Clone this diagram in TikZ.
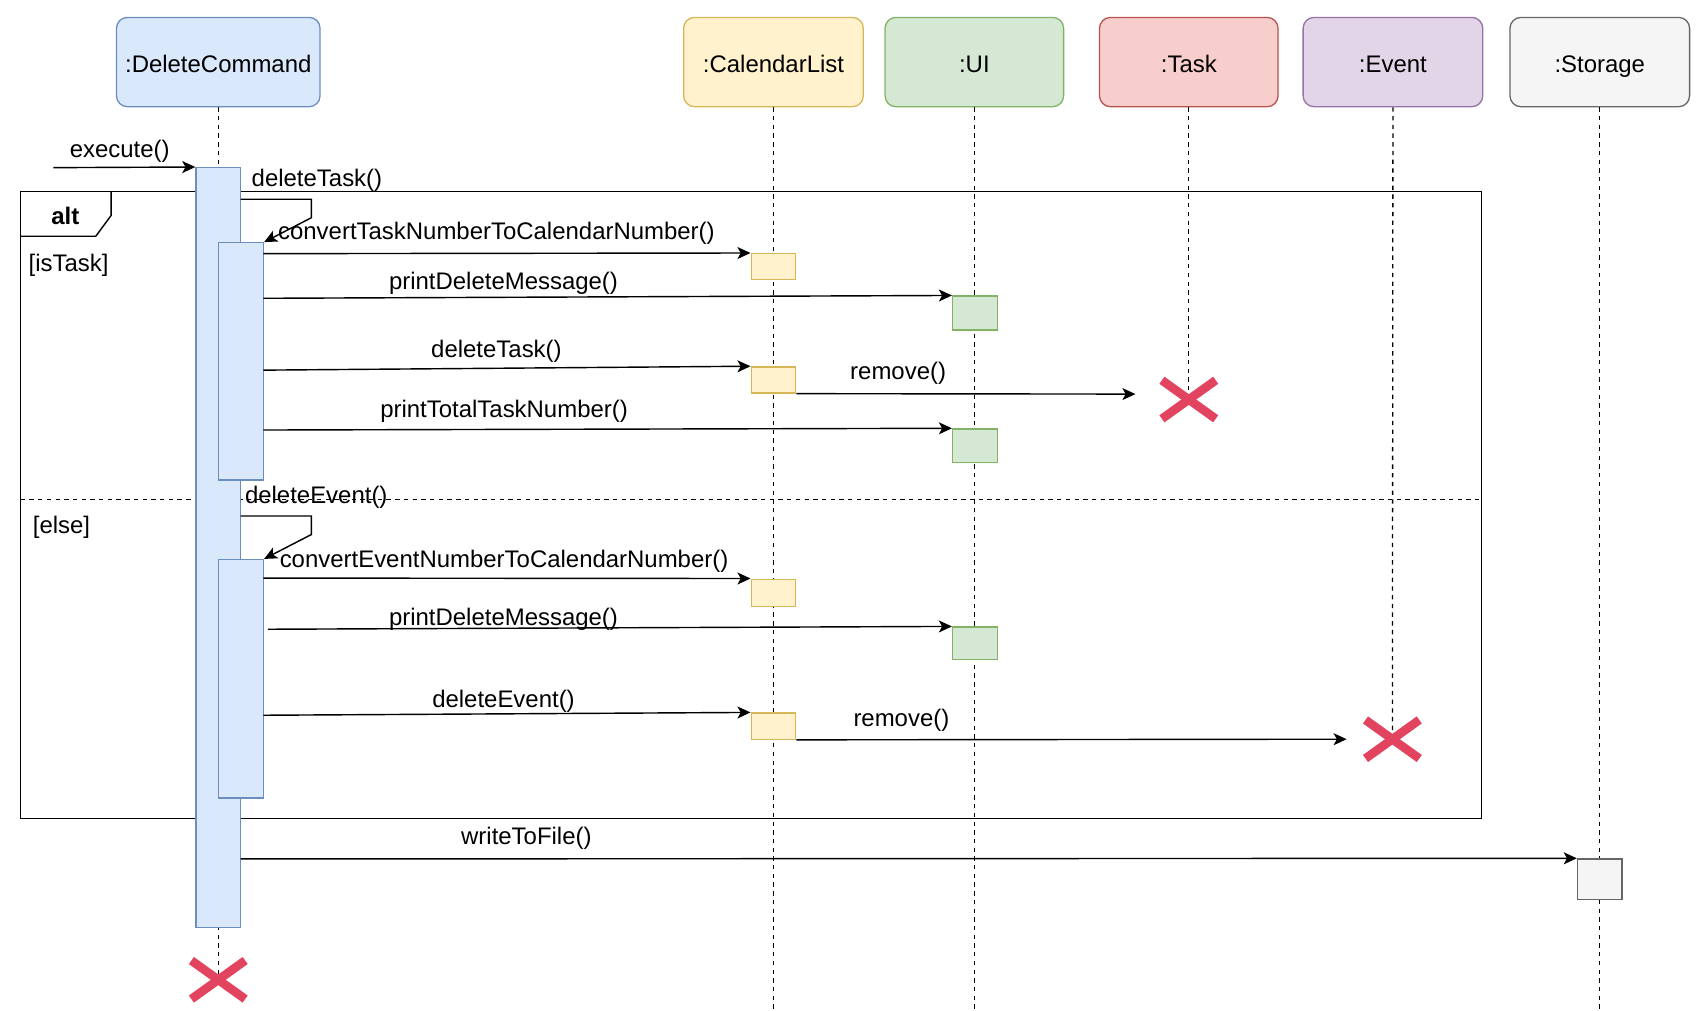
\documentclass[tikz,border=0pt]{standalone}
\usepackage{fontspec}
\setmainfont{Liberation Sans}
\usetikzlibrary{arrows.meta}
\definecolor{bfill}{HTML}{DAE8FC}\definecolor{bline}{HTML}{6C8EBF}
\definecolor{yfill}{HTML}{FFF2CC}\definecolor{yline}{HTML}{D6B656}
\definecolor{gfill}{HTML}{D5E8D4}\definecolor{gline}{HTML}{82B366}
\definecolor{rfill}{HTML}{F8CECC}\definecolor{rline}{HTML}{B85450}
\definecolor{pfill}{HTML}{E1D5E7}\definecolor{pline}{HTML}{9673A6}
\definecolor{sfill}{HTML}{F5F5F5}\definecolor{sline}{HTML}{666666}
\definecolor{xred}{HTML}{E2445F}
\tikzset{
  txt/.style={font=\fontsize{22}{26}\selectfont, inner sep=0pt},
  head/.style={txt, draw, rounded corners=10pt, line width=1.2pt, minimum height=82pt, text height=19pt, text depth=0pt},
  actbox/.style={draw, line width=1.2pt, inner sep=0pt, minimum width=41pt},
  life/.style={line width=1.2pt, dash pattern=on 4pt off 4pt},
  msg/.style={line width=1.3pt, -{Stealth[length=12pt,width=11pt,inset=3pt]}},
  frameline/.style={line width=1.3pt},
  xmark/.style={inner sep=0pt, minimum width=49pt, minimum height=35pt},
  xarm/.style={line width=8pt, xred, line cap=butt},
}
\begin{document}
\begin{tikzpicture}[x=1pt,y=-1pt]
\useasboundingbox (0,0) rectangle (1568,928);
% headers
\node[head, fill=bfill, draw=bline, minimum width=187pt] (dc) at (200.5,57) {:DeleteCommand};
\node[head, fill=yfill, draw=yline, minimum width=165pt] (cl) at (710.5,57) {:CalendarList};
\node[head, fill=gfill, draw=gline, minimum width=164pt] (ui) at (895,57) {:UI};
\node[head, fill=rfill, draw=rline, minimum width=164pt] (task) at (1092,57) {:Task};
\node[head, fill=pfill, draw=pline, minimum width=165pt] (event) at (1279.5,57) {:Event};
\node[head, fill=sfill, draw=sline, minimum width=165pt] (storage) at (1469.5,57) {:Storage};
% destroy marks
\node[xmark] (xdc) at (200.5,900) {};
\node[xmark] (xtask) at (1092,367) {};
\node[xmark] (xevent) at (1279,679) {};
\coordinate (clend) at (710.5,928);
\coordinate (uiend) at (895,928);
\coordinate (stend) at (1469.5,928);
% alt frame
\draw[frameline] (19,176) rectangle (1361,752);
\draw[frameline] (19,217) -- (88,217) -- (102,198) -- (102,176);
\draw[line width=1.2pt, dash pattern=on 4pt off 4pt] (19,459) -- (1361,459);
\node[txt, font=\fontsize{22}{26}\selectfont\bfseries] (altlbl) at (60,198) {alt};
\node[txt] (g1) at (63,244) {[isTask]};
\node[txt] (g2) at (56.5,484) {[else]};
% lifelines
\draw[life] (dc.south) -- (xdc.center);
\draw[life] (cl.south) -- (clend);
\draw[life] (ui.south) -- (uiend);
\draw[life] (task.south) -- (xtask.center);
\draw[life] (event.south) -- (xevent.center);
\draw[life] (storage.south) -- (stend);
% activation bars
\node[actbox, fill=bfill, draw=bline, minimum height=698pt] (m) at (200.5,503) {};
\node[actbox, fill=bfill, draw=bline, minimum height=218pt] (n1) at (221.5,332) {};
\node[actbox, fill=bfill, draw=bline, minimum height=219pt] (n2) at (221.5,623.5) {};
\node[actbox, fill=yfill, draw=yline, minimum height=24pt] (c1) at (710.5,245) {};
\node[actbox, fill=gfill, draw=gline, minimum height=31pt] (u1) at (895.5,287.5) {};
\node[actbox, fill=yfill, draw=yline, minimum height=24pt] (c2) at (710.5,349) {};
\node[actbox, fill=gfill, draw=gline, minimum height=31pt] (u2) at (895.5,409.5) {};
\node[actbox, fill=yfill, draw=yline, minimum height=25pt] (c3) at (710.5,544.5) {};
\node[actbox, fill=gfill, draw=gline, minimum height=30pt] (u3) at (895.5,591) {};
\node[actbox, fill=yfill, draw=yline, minimum height=24pt] (c4) at (710.5,667) {};
\node[actbox, fill=sfill, draw=sline, minimum height=37pt] (st) at (1469.5,807.5) {};
% X marks
\foreach \x in {xdc,xtask,xevent}{
  \draw[xarm] (\x.north west) -- (\x.south east);
  \draw[xarm] (\x.south west) -- (\x.north east);
}
% message start coordinates
\coordinate (e0) at (49,154);
\coordinate (s1) at (221,183);
\coordinate (s2) at (221,474);
\coordinate (a1) at (242,233);
\coordinate (a2) at (242,274);
\coordinate (a3) at (242,340);
\coordinate (a5) at (242,395);
\coordinate (a7) at (242,531);
\coordinate (a8) at (246,578);
\coordinate (a9) at (242,657);
\coordinate (w1) at (221,789);
\coordinate (r1) at (1043,362);
\coordinate (r2) at (1237,679);
% messages
\draw[msg] (e0) -- (m.north west);
\draw[msg] (s1) -- ++(65,0) -- ++(0,17) -- (n1.north east);
\draw[msg] (a1) -- (c1.north west);
\draw[msg] (a2) -- (u1.north west);
\draw[msg] (a3) -- (c2.north west);
\draw[msg] (c2.south east) -- (r1);
\draw[msg] (a5) -- (u2.north west);
\draw[msg] (s2) -- ++(65,0) -- ++(0,17) -- (n2.north east);
\draw[msg] (a7) -- (c3.north west);
\draw[msg] (a8) -- (u3.north west);
\draw[msg] (a9) -- (c4.north west);
\draw[msg] (c4.south east) -- (r2);
\draw[msg] (w1) -- (st.north west);
% labels
\node[txt] (l0) at (110,139) {execute()};
\node[txt, anchor=west] (l1) at (231,166) {deleteTask()};
\node[txt] (l2) at (456,214) {convertTaskNumberToCalendarNumber()};
\node[txt] (l3) at (462.5,260) {printDeleteMessage()};
\node[txt] (l4) at (456,323) {deleteTask()};
\node[txt] (l5) at (825,343) {remove()};
\node[txt] (l6) at (463,378) {printTotalTaskNumber()};
\node[txt] (l7) at (290.5,457) {deleteEvent()};
\node[txt] (l8) at (463,516) {convertEventNumberToCalendarNumber()};
\node[txt] (l9) at (462.5,569) {printDeleteMessage()};
\node[txt] (l10) at (462.5,644) {deleteEvent()};
\node[txt] (l11) at (828,662) {remove()};
\node[txt] (l12) at (483.5,770) {writeToFile()};
\end{tikzpicture}
\end{document}
